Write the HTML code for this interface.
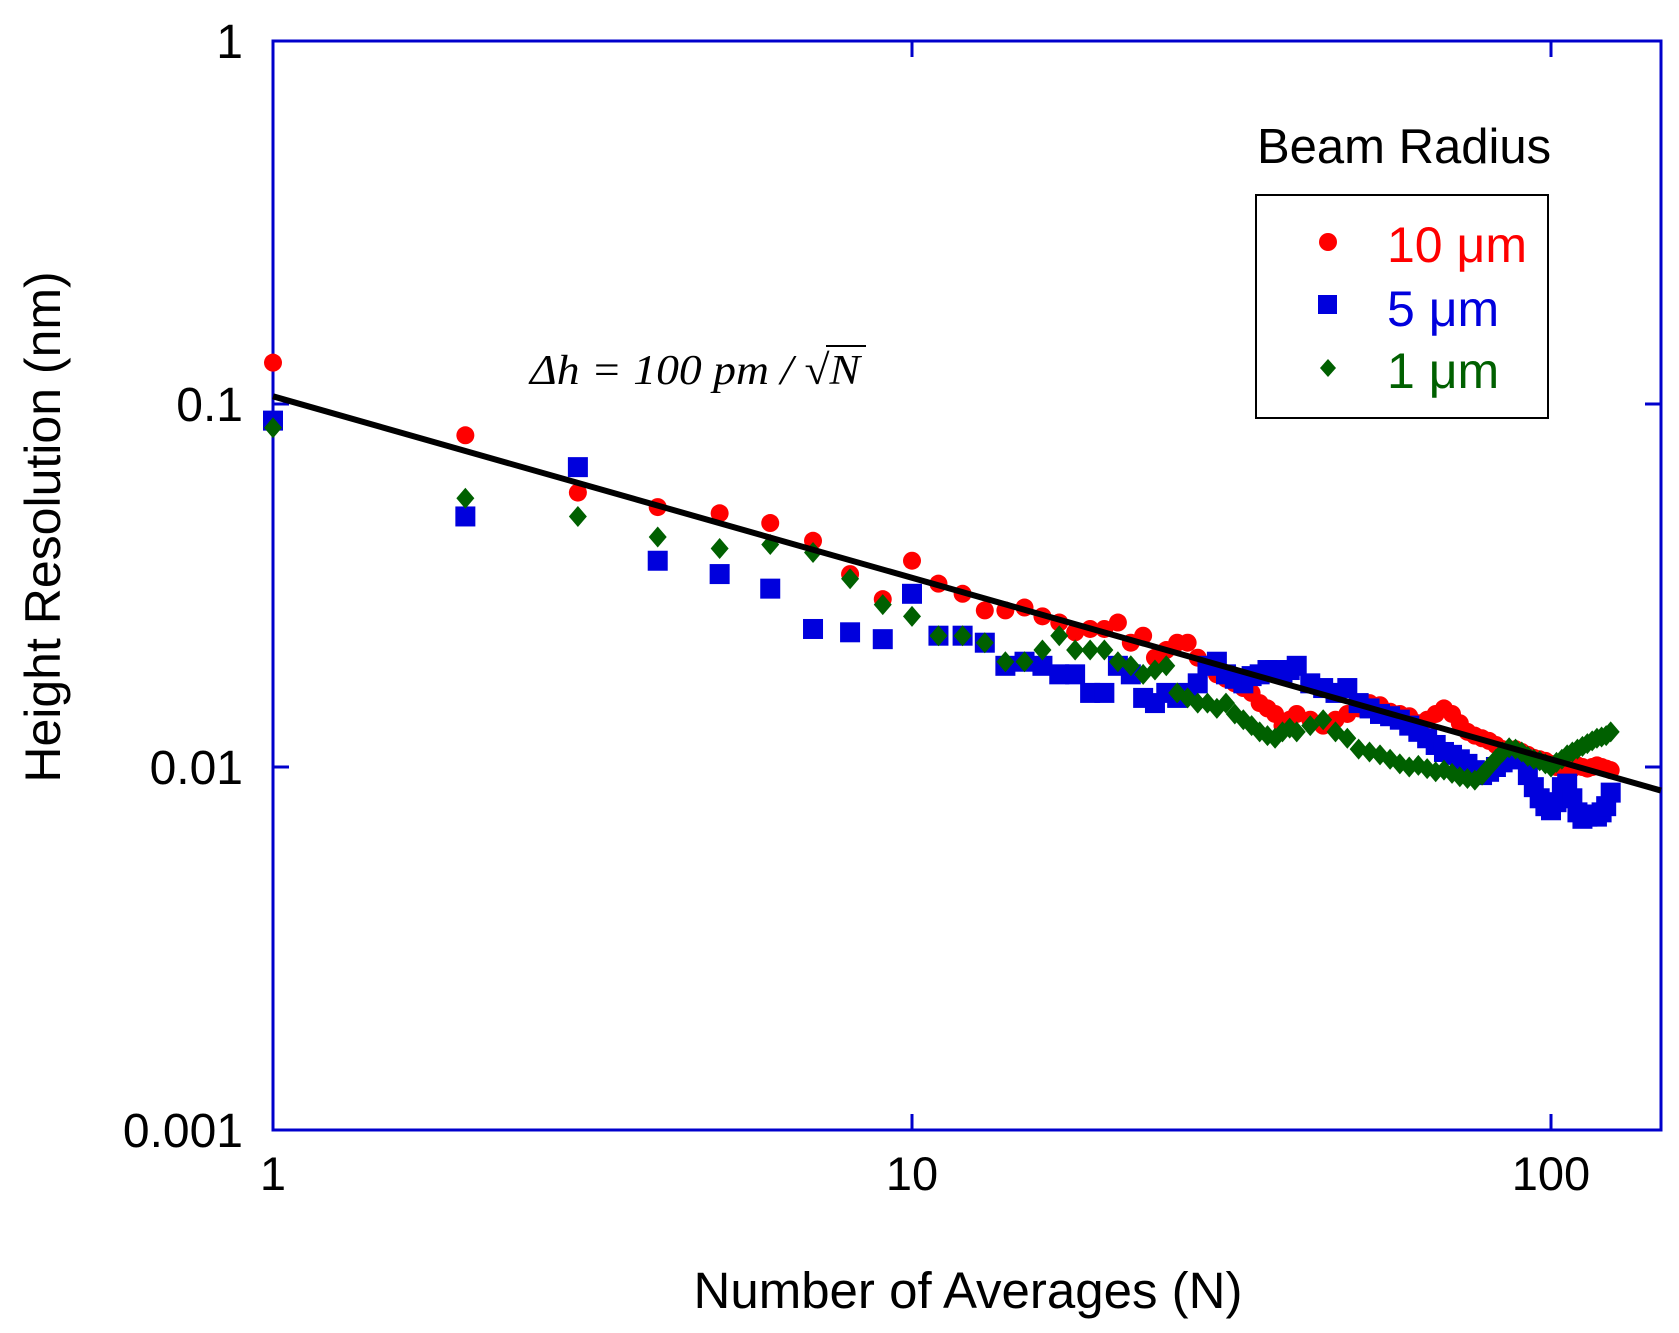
<!DOCTYPE html>
<html><head><meta charset="utf-8"><style>
body{margin:0;background:#fff}
svg{display:block}
text{font-family:"Liberation Sans",sans-serif}
</style></head><body>
<svg id="chart" width="1679" height="1333" viewBox="0 0 1679 1333">
<g id="marks"></g>
</svg>
<script>
const xTicks=[1,10,100];
const xTickLabels=["1","10","100"];
const yTicks=[1,0.1,0.01,0.001];
const yTickLabels=["1","0.1","0.01","0.001"];
const nA=[1,2,3,4,5,6,7,8,9,10,11,12,13,14,15,16,17,18,19,20,21,22,23,24,25,26,27,28,29,30,31,32,33,34,35,36,37,38,39,40,42,44,46,48,50,52,54,56,58,60,62,64,66,68,70,72,74,76,78,80,82,84,86,88,90,92,94,96,98,100,102,104,106,108,110,112,114,116,118,120,122,124];
const red=[0.13,0.082,0.057,0.052,0.05,0.047,0.042,0.034,0.029,0.037,0.032,0.03,0.027,0.027,0.0275,0.026,0.025,0.0235,0.024,0.024,0.025,0.022,0.023,0.02,0.021,0.022,0.022,0.02,0.019,0.018,0.0175,0.017,0.0165,0.016,0.015,0.0145,0.014,0.013,0.0135,0.014,0.0135,0.013,0.0135,0.014,0.0145,0.015,0.0148,0.0142,0.014,0.0138,0.0132,0.0135,0.014,0.0145,0.014,0.0132,0.0125,0.0122,0.012,0.0118,0.0115,0.0112,0.011,0.0112,0.011,0.0108,0.0106,0.0105,0.0104,0.0102,0.01,0.0101,0.01,0.0099,0.0101,0.01,0.0099,0.01,0.0101,0.01,0.0099,0.0098];
const blue=[0.09,0.049,0.067,0.037,0.034,0.031,0.024,0.0235,0.0225,0.03,0.023,0.023,0.022,0.019,0.0195,0.019,0.018,0.018,0.016,0.016,0.019,0.018,0.0155,0.015,0.016,0.0155,0.016,0.017,0.019,0.0195,0.018,0.0175,0.017,0.0178,0.018,0.0185,0.0185,0.0182,0.0185,0.019,0.017,0.0165,0.016,0.0165,0.015,0.0145,0.014,0.0138,0.0135,0.013,0.0125,0.012,0.0115,0.011,0.0108,0.0105,0.0102,0.0098,0.0095,0.0097,0.01,0.0103,0.0105,0.0107,0.0105,0.0095,0.0088,0.0082,0.0078,0.0076,0.008,0.0088,0.009,0.0082,0.0075,0.0072,0.0073,0.0074,0.0073,0.0075,0.0078,0.0085];
const green=[0.086,0.055,0.049,0.043,0.04,0.041,0.039,0.033,0.028,0.026,0.023,0.023,0.022,0.0195,0.0195,0.021,0.023,0.021,0.021,0.021,0.0195,0.019,0.018,0.0185,0.019,0.016,0.0155,0.015,0.015,0.0145,0.015,0.014,0.0135,0.013,0.0125,0.0122,0.012,0.0125,0.0128,0.0125,0.013,0.0135,0.0125,0.012,0.0112,0.011,0.0108,0.0105,0.0102,0.01,0.0101,0.0099,0.0097,0.0098,0.0096,0.0094,0.0093,0.0092,0.0095,0.01,0.0105,0.011,0.0113,0.0112,0.011,0.0107,0.0105,0.0104,0.0102,0.01,0.0103,0.0105,0.0108,0.011,0.0112,0.0114,0.0116,0.0118,0.012,0.0121,0.0122,0.0125];
const fitAmp=[0.105];
const L=273,R=1661,T=41,B=1130,dec=639,ydec=363;
const xs=n=>L+Math.log10(n)*dec;
const ys=v=>T+(0-Math.log10(v))*ydec;
const NS="http://www.w3.org/2000/svg";
const g=document.getElementById('marks');
function mk(tag,attrs,parent){const e=document.createElementNS(NS,tag);for(const k in attrs)e.setAttribute(k,attrs[k]);(parent||g).appendChild(e);return e;}
const fr=mk('rect',{x:L,y:T,width:R-L,height:B-T,fill:'none',stroke:'#0000cc','stroke-width':3});


xTicks.forEach((t,i)=>{const x=xs(t);
 const a=mk('line',{x1:x,x2:x,y1:B,y2:B-16,stroke:'#0000cc','stroke-width':3});
 
 
 const b=mk('line',{x1:x,x2:x,y1:T,y2:T+16,stroke:'#0000cc','stroke-width':3});
 
 
 const tx=mk('text',{x:x,y:1190,'text-anchor':'middle','font-size':47});tx.textContent=xTickLabels[i];
 
 
});
yTicks.forEach((t,i)=>{const y=ys(t);
 const a=mk('line',{x1:L,x2:L+16,y1:y,y2:y,stroke:'#0000cc','stroke-width':3});
 
 
 const b=mk('line',{x1:R,x2:R-16,y1:y,y2:y,stroke:'#0000cc','stroke-width':3});
 
 
 const tx=mk('text',{x:243,y:y+17,'text-anchor':'end','font-size':48});tx.textContent=yTickLabels[i];
 
 
});
function circle(x,y,c){return mk('circle',{cx:x,cy:y,r:9,fill:c});}
function square(x,y,c){return mk('rect',{x:x-10,y:y-10,width:20,height:20,fill:c});}
function diamond(x,y,c){return mk('polygon',{points:`${x},${y-10.5} ${x+9},${y} ${x},${y+10.5} ${x-9},${y}`,fill:c});}
nA.forEach((n,i)=>{const e=circle(xs(n),ys(red[i]),'#ff0000');
 
 });
nA.forEach((n,i)=>{const e=square(xs(n),ys(blue[i]),'#0000dd');
 
 });
nA.forEach((n,i)=>{const e=diamond(xs(n),ys(green[i]),'#006000');
 
 });
const nMax=Math.pow(10,(R-L)/dec);
const fl=mk('line',{x1:xs(1),y1:ys(fitAmp[0]),x2:xs(nMax),y2:ys(fitAmp[0]/Math.sqrt(nMax)),stroke:'#000','stroke-width':6});


</script>
<script>
const svg=document.getElementById('chart');
svg.insertAdjacentHTML('beforeend',`
<text x="968" y="1308" text-anchor="middle" font-size="51">Number of Averages (N)</text>
<text transform="translate(60,527) rotate(-90)" text-anchor="middle" font-size="50">Height Resolution (nm)</text>
<text x="530" y="384" font-size="42" font-style="italic" textLength="330" lengthAdjust="spacingAndGlyphs" style="font-family:'Liberation Serif',serif">Δh = 100 pm / √N</text>
<line x1="826" y1="346" x2="866" y2="346" stroke="#000" stroke-width="2"/>
<g transform="translate(-7,0)">
<text x="1264" y="163" font-size="49">Beam Radius</text>
<rect x="1263" y="195" width="292" height="223" fill="none" stroke="#000" stroke-width="2"/>
<circle cx="1335" cy="242" r="9" fill="#ff0000"/>
<text x="1394" y="262" font-size="50" fill="#ff0000">10 μm</text>
<rect x="1325" y="295" width="19" height="19" fill="#0000dd"/>
<text x="1394" y="326" font-size="50" fill="#0000dd">5 μm</text>
<polygon points="1335,359 1343,368 1335,377 1327,368" fill="#006000"/>
<text x="1394" y="388" font-size="50" fill="#006000">1 μm</text>
</g>`);
</script>
</body></html>
